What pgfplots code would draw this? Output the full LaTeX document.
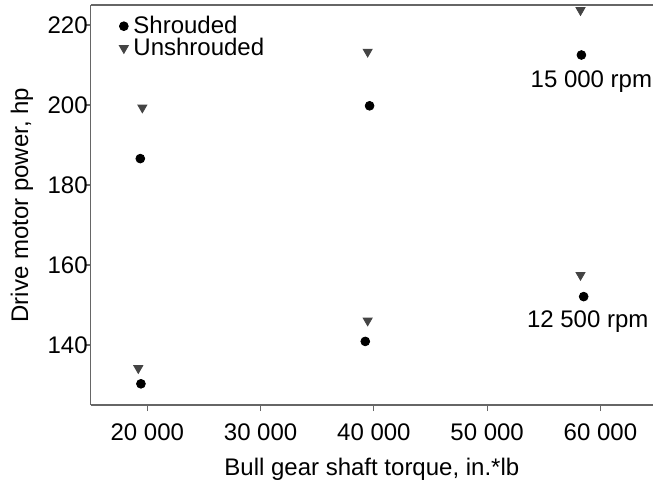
\documentclass[border=0pt]{standalone}
\usepackage{fontspec}
\setmainfont{Liberation Sans}
\usepackage{pgfplots}
\pgfplotsset{compat=1.18}
\definecolor{spine}{HTML}{666666}
\definecolor{tri}{HTML}{444444}
\begin{document}
\begin{tikzpicture}[font=\fontsize{12}{14.4}\selectfont]
\begin{axis}[
  at={(0,0)}, anchor=south west,
  scale only axis, width=281.15pt, height=200pt,
  xmin=15000, xmax=64640, ymin=125, ymax=225,
  axis x line*=box, axis y line*=left,
  axis line style={spine, line width=0.6pt},
  tick style={spine, line width=0.6pt},
  tick align=outside, major tick length=3pt,
  xtick={20000,30000,40000,50000,60000},
  ytick={140,160,180,200,220},
  xtick pos=bottom, ytick pos=left,
  /pgf/number format/assume math mode=true,
  /pgf/number format/1000 sep={\ },
  scaled x ticks=false,
  ticklabel style={font=\fontsize{12}{14.4}\selectfont},
  xticklabel style={yshift=-3pt},
  yticklabel style={xshift=5pt},
  xlabel={Bull gear shaft torque, in.*lb},
  ylabel={Drive motor power, hp},
  every axis x label/.style={at={(axis description cs:0.5,0)}, anchor=center, yshift=-32.3pt},
  every axis y label/.style={at={(axis description cs:-0.1225,0.5)}, anchor=center, rotate=90},
  legend style={draw=none, fill=none, at={(axis description cs:0.049,0.975)}, anchor=north west,
    inner sep=0pt, row sep=0.2pt, nodes={inner xsep=1pt, inner ysep=0pt, text height=8.8pt, text depth=2pt, anchor=west}},
  legend cell align=left,
  legend image code/.code={\path (-2.4pt,0pt) (3.6pt,0pt); \draw[#1] plot coordinates {(0pt,0pt)};},
]
\addplot[only marks, mark=*, mark size=2.2pt, black] coordinates {
  (19435,130.3) (19380,186.6) (39240,140.9) (39620,199.8) (58520,152.1) (58320,212.5)
};
\addlegendentry{Shrouded}
\addplot[only marks, mark=triangle*, mark size=2.6pt, mark options={rotate=180}, tri] coordinates {
  (19200,134.2) (19560,199.35) (39450,146.1) (39450,213.3) (58240,157.5) (58240,223.7)
};
\addlegendentry{Unshrouded}
\node[anchor=center] at (axis cs:59200,205.75) {15 000 rpm};
\node[anchor=center] at (axis cs:58880,145.75) {12 500 rpm};
\end{axis}
\pgfresetboundingbox
\useasboundingbox (-45.35pt,-39.5pt) rectangle (281.15pt,202.5pt);
\end{tikzpicture}
\end{document}
